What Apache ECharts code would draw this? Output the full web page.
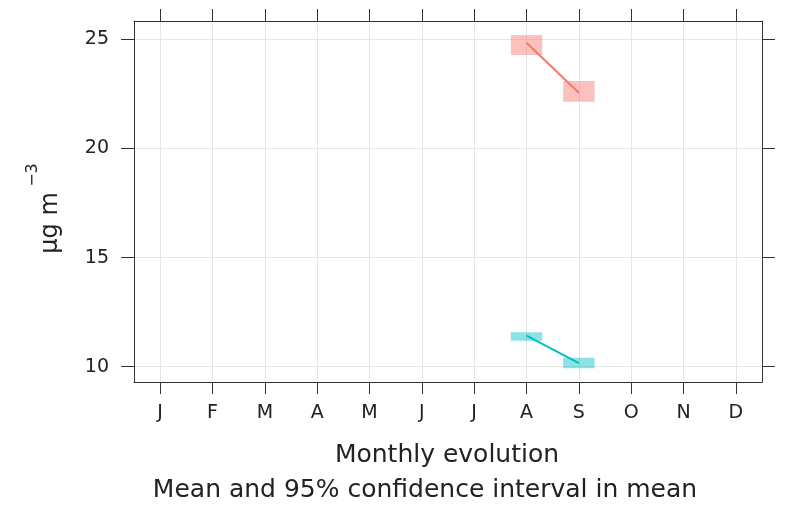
<!DOCTYPE html>
<html>
<head>
<meta charset="utf-8">
<script src="https://cdn.jsdelivr.net/npm/echarts@6/dist/echarts.min.js"></script>
<style>html,body{margin:0;padding:0;background:#fff}#c{width:786px;height:505px}</style>
</head>
<body>
<div id="c"></div>
<script>
var monthLabels = ['J','F','M','A','M','J','J','A','S','O','N','D'];
var monthPositions = [1,2,3,4,5,6,7,8,9,10,11,12];
var yTicks = [10, 15, 20, 25];
var ciMonths = [8, 9];
var redMean = [24.84, 22.55];
var redLow = [24.28, 22.14];
var redHigh = [25.20, 23.09];
var cyanMean = [11.42, 10.16];
var cyanLow = [11.19, 9.93];
var cyanHigh = [11.58, 10.41];

var FONT = 'DejaVu Sans';
var frame = '#333333';
var txt = '#222222';

function boxData(lo, hi) {
  return ciMonths.map(function (m, i) { return [m, lo[i], hi[i]]; });
}
function lineData(mean) {
  return ciMonths.map(function (m, i) { return [m, mean[i]]; });
}
function boxRender(fill) {
  return function (params, api) {
    var x = api.value(0);
    var p1 = api.coord([x - 0.3, api.value(2)]);
    var p2 = api.coord([x + 0.3, api.value(1)]);
    return {
      type: 'rect',
      shape: { x: p1[0], y: p1[1], width: p2[0] - p1[0], height: p2[1] - p1[1] },
      style: { fill: fill }
    };
  };
}

var chart = echarts.init(document.getElementById('c'), null, { renderer: 'canvas' });
chart.setOption({
  animation: false,
  backgroundColor: '#ffffff',
  grid: { left: 134, right: 24, top: 21, bottom: 123 },
  xAxis: [{
    type: 'value', position: 'bottom', min: 0.5, max: 12.5,
    axisLine: { show: true, lineStyle: { color: frame, width: 1 } },
    axisTick: { show: true, customValues: monthPositions, length: 12, lineStyle: { color: frame } },
    axisLabel: { customValues: monthPositions, margin: 22, fontFamily: FONT, fontSize: 19, color: txt,
      formatter: function (v) { return monthLabels[Math.round(v) - 1]; } },
    splitLine: { show: true, lineStyle: { color: '#e6e6e6', width: 1 } }
  }, {
    type: 'value', position: 'top', min: 0.5, max: 12.5,
    axisLine: { show: true, lineStyle: { color: frame, width: 1 } },
    axisTick: { show: true, customValues: monthPositions, length: 12, lineStyle: { color: frame } },
    axisLabel: { show: false },
    splitLine: { show: false }
  }],
  yAxis: [{
    type: 'value', position: 'left', min: 9.3, max: 25.84,
    axisLine: { show: true, lineStyle: { color: frame, width: 1 } },
    axisTick: { show: true, customValues: yTicks, length: 13, lineStyle: { color: frame } },
    axisLabel: { customValues: yTicks, margin: 25, fontFamily: FONT, fontSize: 19, color: txt },
    splitLine: { show: true, lineStyle: { color: '#e6e6e6', width: 1 } }
  }, {
    type: 'value', position: 'right', min: 9.3, max: 25.84,
    axisLine: { show: true, lineStyle: { color: frame, width: 1 } },
    axisTick: { show: true, customValues: yTicks, length: 13, lineStyle: { color: frame } },
    axisLabel: { show: false },
    splitLine: { show: false }
  }],
  graphic: [{
    type: 'text', x: 447, y: 455,
    style: { text: 'Monthly evolution', font: '25px "DejaVu Sans"', fill: txt, align: 'center', verticalAlign: 'middle' }
  }, {
    type: 'text', x: 425, y: 490,
    style: { text: 'Mean and 95% confidence interval in mean', font: '25px "DejaVu Sans"', fill: txt, align: 'center', verticalAlign: 'middle' }
  }, {
    type: 'text', x: 51, y: 223, rotation: Math.PI / 2,
    style: { text: 'μg m', font: '24px "DejaVu Sans"', fill: txt, align: 'center', verticalAlign: 'middle' }
  }, {
    type: 'text', x: 33, y: 175, rotation: Math.PI / 2,
    style: { text: '−3', font: '16px "DejaVu Sans"', fill: txt, align: 'center', verticalAlign: 'middle' }
  }],
  series: [{
    type: 'custom', xAxisIndex: 0, yAxisIndex: 0, data: boxData(redLow, redHigh),
    renderItem: boxRender('rgba(248,118,109,0.45)'), encode: { x: 0, y: [1, 2] }, z: 2
  }, {
    type: 'custom', xAxisIndex: 0, yAxisIndex: 0, data: boxData(cyanLow, cyanHigh),
    renderItem: boxRender('rgba(0,191,196,0.45)'), encode: { x: 0, y: [1, 2] }, z: 2
  }, {
    type: 'line', xAxisIndex: 0, yAxisIndex: 0, data: lineData(redMean), showSymbol: false,
    lineStyle: { color: '#F8766D', width: 2 }, z: 3
  }, {
    type: 'line', xAxisIndex: 0, yAxisIndex: 0, data: lineData(cyanMean), showSymbol: false,
    lineStyle: { color: '#00BFC4', width: 2 }, z: 3
  }]
});
</script>
</body>
</html>
